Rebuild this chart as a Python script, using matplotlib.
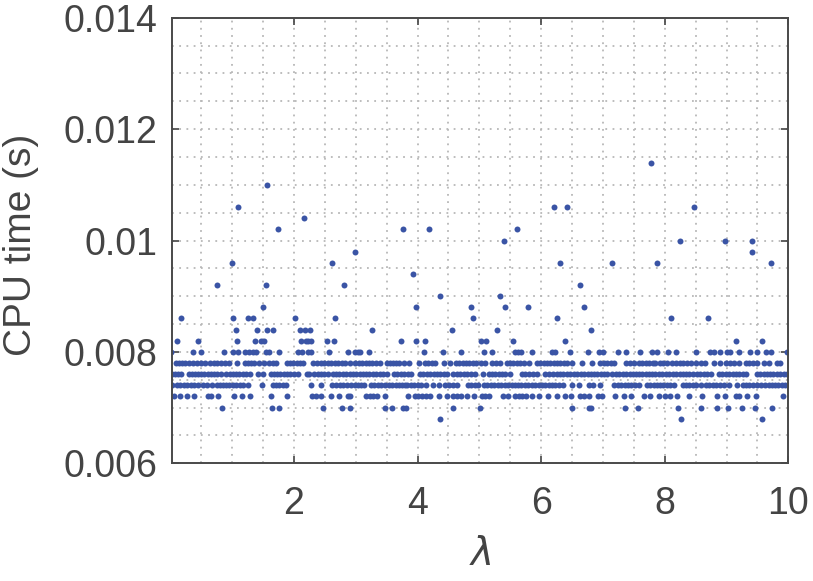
import matplotlib
matplotlib.use('Agg')
import matplotlib.pyplot as plt
from matplotlib.ticker import MultipleLocator

# x positions (lambda) of the points on each CPU-time level
rows = {
    0.0114: [7.77],
    0.0110: [1.57],
    0.0106: [1.10, 6.21, 6.42, 8.47],
    0.0104: [2.16],
    0.0102: [1.74, 3.77, 4.18, 5.61],
    0.0100: [5.40, 8.24, 8.97, 9.42],
    0.0098: [2.98, 9.42],
    0.0096: [0.99, 2.62, 6.31, 7.14, 7.87, 9.72],
    0.0094: [3.93],
    0.0092: [0.76, 1.55, 2.81, 6.63],
    0.0090: [4.36, 5.34],
    0.0088: [1.50, 3.97, 4.87, 5.41, 5.79, 6.70],
    0.0086: [0.17, 1.02, 1.26, 1.34, 2.02, 2.66, 4.90, 6.25, 8.10, 8.70],
    0.0084: [1.06, 1.40, 1.56, 1.66, 2.09, 2.17, 2.26, 3.26, 4.55, 5.29, 6.81],
    0.0082: [0.10, 0.45, 1.07, 1.37, 1.46, 1.52, 2.12, 2.20, 2.23, 2.28, 2.54,
             2.64, 3.73, 3.98, 4.12, 5.02, 5.11, 5.55, 6.39, 9.15, 9.57],
    0.0080: [0.01, 0.36, 0.50, 0.86, 1.01, 1.10, 1.20, 1.27, 1.33, 1.39, 1.54,
             1.59, 1.75, 2.06, 2.13, 2.23, 2.28, 2.56, 2.87, 2.99, 3.03, 3.06,
             3.22, 4.11, 4.41, 4.71, 5.08, 5.20, 5.58, 5.63, 5.68, 5.85, 6.17,
             6.22, 6.46, 6.75, 6.94, 7.00, 7.24, 7.37, 7.60, 7.79, 7.88, 8.06,
             8.18, 8.50, 8.73, 8.79, 8.90, 9.00, 9.06, 9.21, 9.38, 9.50, 9.64,
             9.72, 9.98],
    0.0078: [0.09, 0.14, 0.19, 0.24, 0.30, 0.37, 0.43, 0.50, 0.56, 0.64, 0.71,
             0.76, 0.82, 0.88, 0.94, 1.08, 1.20, 1.25, 1.30, 1.36, 1.43, 1.52,
             1.60, 1.66, 1.71, 1.89, 1.94, 1.99, 2.04, 2.09, 2.14, 2.31, 2.37,
             2.43, 2.49, 2.55, 2.60, 2.66, 2.71, 2.77, 2.82, 2.90, 2.98, 3.05,
             3.10, 3.16, 3.21, 3.27, 3.33, 3.39, 3.50, 3.55, 3.60, 3.65, 3.70,
             3.78, 3.86, 4.03, 4.12, 4.17, 4.23, 4.28, 4.43, 4.52, 4.62, 4.67,
             4.73, 4.78, 4.84, 4.89, 4.95, 5.03, 5.09, 5.20, 5.27, 5.34, 5.44,
             5.50, 5.55, 5.61, 5.66, 5.72, 5.80, 5.93, 5.98, 6.04, 6.09, 6.15,
             6.20, 6.26, 6.31, 6.37, 6.42, 6.50, 6.66, 6.82, 6.96, 7.01, 7.07,
             7.13, 7.18, 7.37, 7.43, 7.50, 7.59, 7.64, 7.70, 7.75, 7.81, 7.85,
             7.92, 7.98, 8.04, 8.12, 8.18, 8.24, 8.30, 8.36, 8.42, 8.50, 8.58,
             8.65, 8.80, 8.90, 8.99, 9.05, 9.12, 9.21, 9.31, 9.37, 9.43, 9.49,
             9.60, 9.68, 9.82, 9.87],
    0.0076: [0.02, 0.07, 0.12, 0.17, 0.30, 0.35, 0.40, 0.45, 0.50, 0.55, 0.60,
             0.66, 0.71, 0.76, 0.81, 0.90, 0.96, 1.01, 1.06, 1.11, 1.17, 1.23,
             1.29, 1.42, 1.49, 1.62, 1.67, 1.72, 1.77, 1.83, 1.88, 1.94, 2.00,
             2.06, 2.21, 2.25, 2.33, 2.39, 2.44, 2.49, 2.55, 2.63, 2.68, 2.73,
             2.79, 2.84, 2.90, 2.95, 3.01, 3.06, 3.11, 3.17, 3.22, 3.28, 3.33,
             3.39, 3.44, 3.50, 3.62, 3.67, 3.73, 3.78, 3.84, 3.90, 4.04, 4.09,
             4.15, 4.20, 4.26, 4.31, 4.37, 4.42, 4.47, 4.58, 4.64, 4.69, 4.75,
             4.80, 4.86, 4.93, 5.06, 5.15, 5.20, 5.26, 5.31, 5.37, 5.42, 5.50,
             5.69, 5.74, 5.80, 5.86, 5.93, 6.07, 6.13, 6.19, 6.26, 6.31, 6.36,
             6.42, 6.47, 6.53, 6.58, 6.64, 6.69, 6.75, 6.80, 6.86, 6.91, 6.97,
             7.02, 7.07, 7.15, 7.21, 7.26, 7.32, 7.37, 7.43, 7.48, 7.53, 7.58,
             7.63, 7.69, 7.74, 7.80, 7.85, 7.91, 7.96, 8.02, 8.07, 8.13, 8.18,
             8.24, 8.29, 8.35, 8.40, 8.45, 8.52, 8.57, 8.63, 8.69, 8.75, 8.88,
             8.93, 8.99, 9.04, 9.10, 9.15, 9.21, 9.26, 9.31, 9.49, 9.54, 9.60,
             9.65, 9.71, 9.76, 9.82, 9.87, 9.93, 9.98],
    0.0074: [0.02, 0.11, 0.16, 0.22, 0.27, 0.33, 0.38, 0.44, 0.52, 0.59, 0.67,
             0.75, 0.80, 0.85, 0.90, 0.95, 1.01, 1.06, 1.12, 1.17, 1.25, 1.48,
             1.66, 1.71, 1.76, 1.82, 1.87, 2.27, 2.44, 2.62, 2.68, 2.74, 2.80,
             2.85, 2.93, 2.99, 3.04, 3.09, 3.14, 3.25, 3.30, 3.36, 3.41, 3.47,
             3.54, 3.59, 3.65, 3.70, 3.75, 3.79, 3.83, 3.89, 3.94, 4.00, 4.06,
             4.14, 4.25, 4.34, 4.44, 4.51, 4.57, 4.63, 4.82, 4.87, 4.93, 4.98,
             5.08, 5.13, 5.19, 5.24, 5.30, 5.35, 5.41, 5.46, 5.52, 5.57, 5.63,
             5.68, 5.74, 5.79, 5.85, 5.90, 5.96, 6.01, 6.07, 6.12, 6.18, 6.23,
             6.29, 6.36, 6.50, 6.61, 6.77, 6.84, 6.96, 7.18, 7.24, 7.29, 7.35,
             7.40, 7.46, 7.52, 7.58, 7.71, 7.76, 7.82, 7.87, 7.93, 7.98, 8.04,
             8.09, 8.15, 8.29, 8.34, 8.40, 8.45, 8.50, 8.58, 8.66, 8.72, 8.78,
             8.83, 8.89, 8.96, 9.04, 9.17, 9.26, 9.32, 9.37, 9.43, 9.49, 9.56,
             9.62, 9.68, 9.73, 9.79, 9.84, 9.90, 9.95, 10.0],
    0.0072: [0.06, 0.15, 0.26, 0.38, 0.60, 0.65, 0.77, 1.03, 1.15, 1.29, 1.63,
             1.88, 2.29, 2.36, 2.44, 2.60, 2.73, 2.87, 2.91, 3.17, 3.23, 3.28,
             3.35, 3.47, 3.84, 3.96, 4.01, 4.07, 4.13, 4.20, 4.34, 4.47, 4.58,
             4.64, 4.70, 4.80, 4.92, 5.04, 5.09, 5.15, 5.39, 5.47, 5.58, 5.64,
             5.69, 5.75, 5.85, 5.96, 6.11, 6.26, 6.38, 6.48, 6.63, 6.70, 6.77,
             6.92, 6.99, 7.20, 7.34, 7.45, 7.66, 7.76, 7.90, 8.01, 8.09, 8.20,
             8.39, 8.61, 8.84, 8.98, 9.15, 9.21, 9.33, 9.48, 9.91],
    0.0070: [0.83, 1.64, 1.76, 2.47, 2.78, 2.91, 3.47, 3.59, 3.76, 3.82, 4.58,
             5.01, 6.50, 6.77, 6.80, 7.35, 7.57, 8.22, 8.58, 8.84, 9.03, 9.25,
             9.46, 9.73],
    0.0068: [4.36, 8.26, 9.58],
}

xticks = [2, 4, 6, 8, 10]
yticks = [0.006, 0.008, 0.010, 0.012, 0.014]
ytick_labels = ['0.006', '0.008', '0.01', '0.012', '0.014']

lam, cpu = [], []
for level, xs in rows.items():
    lam += xs
    cpu += [level] * len(xs)

txt = '#444444'
plt.rcParams['font.family'] = ['Liberation Sans', 'DejaVu Sans']

fig = plt.figure(figsize=(8.13, 5.81), dpi=100)
ax = fig.add_axes([171.7 / 813, 1 - 463.3 / 581, 616.6 / 813, 445.6 / 581])

ax.plot(lam, cpu, 'o', ms=4.3, mew=0, color='#3a54a5')

ax.set_xlim(0.02, 10)
ax.set_ylim(0.006, 0.014)
ax.set_xticks(xticks)
ax.set_yticks(yticks)
ax.set_yticklabels(ytick_labels)
ax.xaxis.set_minor_locator(MultipleLocator(0.5))
ax.yaxis.set_minor_locator(MultipleLocator(0.0005))

ax.grid(True, which='both', linestyle=(0, (1, 3)), color='#b8b8b8', linewidth=1.3)
ax.set_axisbelow(True)

ax.tick_params(which='major', direction='in', length=5, width=1.2,
               top=True, right=True, labelsize=27, colors=txt)
ax.tick_params(axis='x', pad=16)
ax.tick_params(axis='y', pad=10)
ax.tick_params(which='minor', length=0)
for s in ax.spines.values():
    s.set_color('#4a4a4a')
    s.set_linewidth(1.4)

ax.set_xlabel(r'$\lambda$', fontsize=28, color=txt)
ax.xaxis.set_label_coords(0.5, -0.206)
ax.xaxis.label.set_va('center')
ax.set_ylabel('CPU time (s)', fontsize=28, color=txt)
ax.yaxis.set_label_coords(-0.245, 0.49)
ax.yaxis.label.set_va('center')

fig.savefig('out.png', dpi=100)
